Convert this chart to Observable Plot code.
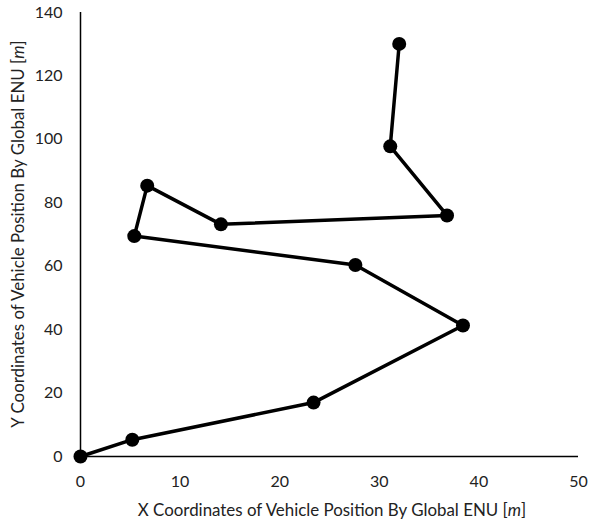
<!DOCTYPE html>
<html>
<head>
<meta charset="utf-8">
<script src="https://cdn.jsdelivr.net/npm/d3@7"></script>
<script src="https://cdn.jsdelivr.net/npm/@observablehq/plot@0.6"></script>
<style>
  html, body { margin: 0; padding: 0; background: #fff; }
  #chart svg { display: block; }
</style>
</head>
<body>
<div id="chart"></div>
<script>
// Vehicle trajectory in global ENU coordinates (metres), in driving order
const xPos = [0, 5.2, 23.4, 38.4, 27.6, 5.4, 6.7, 14.1, 36.8, 31.1, 32.0];
const yPos = [0, 5.3, 17.0, 41.3, 60.4, 69.5, 85.4, 73.2, 76.0, 97.8, 130.1];
const xTicks = [0, 10, 20, 30, 40, 50];
const yTicks = [0, 20, 40, 60, 80, 100, 120, 140];
const xTitle = ["X Coordinates of Vehicle Position By Global ENU [", "m", "]"];
const yTitle = ["Y Coordinates of Vehicle Position By Global ENU [", "m", "]"];

const path = xPos.map((x, i) => ({x, y: yPos[i]}));
const font = "Lato, 'Open Sans', sans-serif";

const chart = Plot.plot({
  width: 592,
  height: 524,
  marginLeft: 80,
  marginRight: 14,
  marginTop: 12,
  marginBottom: 68,
  style: {fontFamily: font, fontSize: "16px", color: "#222", background: "#fff"},
  x: {domain: [0, 50], ticks: xTicks, tickSize: 0, tickPadding: 19, label: null},
  y: {domain: [0, 140], ticks: yTicks, tickSize: 0, tickPadding: 18, label: null},
  marks: [
    Plot.ruleX([0], {stroke: "#000", strokeWidth: 1.5}),
    Plot.ruleY([0], {stroke: "#000", strokeWidth: 1.5}),
    Plot.line(path, {x: "x", y: "y", stroke: "#000", strokeWidth: 3.5, curve: "linear"}),
    Plot.dot(path, {x: "x", y: "y", r: 7, fill: "#000", stroke: "none"})
  ]
});

const svg = d3.select(chart);
// axis titles with the italic unit
function title(parts, attrs) {
  const t = svg.append("text")
    .attr("text-anchor", "middle")
    .attr("font-family", font)
    .attr("font-size", 16.9)
    .attr("fill", "#222");
  for (const [k, v] of Object.entries(attrs)) t.attr(k, v);
  parts.forEach((p, i) => {
    const s = t.append("tspan").text(p);
    if (i === 1) s.attr("font-style", "italic");
  });
}
title(xTitle, {x: 332, y: 516});
title(yTitle, {transform: "translate(24,234) rotate(-90)"});

document.getElementById("chart").appendChild(chart);
</script>
</body>
</html>
